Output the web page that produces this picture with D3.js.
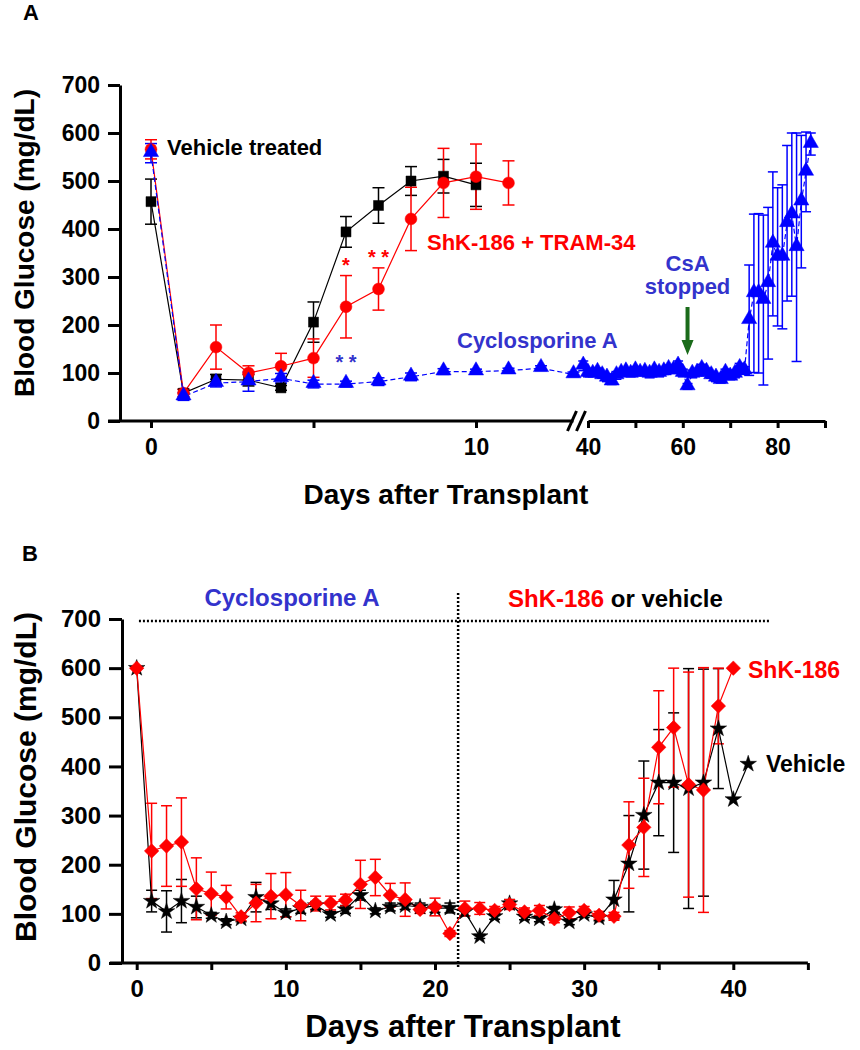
<!DOCTYPE html>
<html><head><meta charset="utf-8">
<script src="https://cdn.jsdelivr.net/npm/d3@7"></script>
<style>
body{margin:0;background:#fff}
text{font-family:"Liberation Sans",Arial,sans-serif;font-weight:bold}
</style>
</head><body>
<svg id="c" width="860" height="1050"></svg>
<script>
// ---------------- Panel A data ----------------
const yTicks = [0,100,200,300,400,500,600,700];
const vehA_days = [0,1,2,3,4,5,6,7,8,9,10];
const vehA_mean = [457,58,87,85,69,206,394,449,500,510,492];
const vehA_sem  = [47,8,10,12,5,42,32,37,30,35,45];

const shkTramA_days = [0,1,2,3,4,5,6,7,8,9,10,11];
const shkTramA_mean = [566,58,154,100,114,131,238,275,421,496,509,496];
const shkTramA_sem  = [20,8,46,15,27,40,65,44,66,72,68,46];

const csaA1_days = [0,1,2,3,4,5,6,7,8,9,10,11,12,13];
const csaA1_mean = [558,51,79,82,89,77,77,82,92,103,103,105,110,97];
const csaA1_sem  = [20,8,8,20,10,8,6,8,8,6,5,5,5,5];

const csaA2_days = [39,40,41,42,43,44,45,46,47,48,49,50,51,52,53,54,55,56,57,58,59,60,61,62,63,64,65,66,67,68,69,70,71,72,73,
                    74,75,76,77,78,79,80,81,82,83,84,85,86,87];
const csaA2_mean = [115,100,98,102,95,90,82,95,100,103,98,105,100,102,98,105,100,103,108,105,115,100,72,98,100,108,102,95,90,85,100,92,98,110,105,
                    210,266,266,252,287,369,342,342,412,430,362,457,519,577];
const csaA2_sem  = [10,8,6,8,6,8,6,8,6,8,6,8,6,6,8,6,8,6,8,6,10,8,6,8,6,10,8,6,8,6,8,6,8,10,8,
                    115,165,166,177,158,150,144,150,162,170,238,138,83,23];

// ---------------- Panel B data ----------------
const shkB_days = d3.range(0,41);
const shkB_mean = [600,228,238,246,151,141,134,94,122,136,139,117,121,122,128,160,174,138,129,109,114,60,111,111,107,119,104,107,90,102,107,97,95,240,276,439,479,363,352,523,600];
const shkB_sem  = [0,97,82,90,63,44,24,8,38,46,45,31,15,14,12,49,37,24,34,8,18,6,15,12,8,10,8,10,8,12,8,8,8,88,100,115,121,229,249,77,0];

const vehB_days = d3.range(0,42);
const vehB_mean = [600,126,105,126,114,97,84,90,134,121,102,111,117,99,109,138,106,114,117,114,111,112,104,54,95,121,94,90,109,84,99,92,129,202,301,367,367,355,367,477,333,405];
const vehB_sem  = [0,22,42,44,22,6,6,6,30,12,8,10,8,6,8,10,6,8,8,8,8,10,8,4,6,8,6,6,6,6,6,6,39,98,110,108,142,244,231,122,0,0];

const xTicksB = [0,5,10,15,20,25,30,35,40,45];
const xLabelsB = [0,10,20,30,40];

const svg = d3.select("#c");
const RED = "#ff0000", BLUE = "#0000ff", TXTBLUE = "#3333cc", GREEN = "#1a6b1a";

function zip(days, mean, sem){ return days.map((d,i)=>({d, m:mean[i], s:sem[i]})); }

function errorBars(g, data, x, y, color, cap, w){
  const eb = g.append("g");
  data.filter(p=>p.s>0).forEach(p=>{
    const cx = x(p.d);
    eb.append("line").attr("x1",cx).attr("x2",cx).attr("y1",y(p.m-p.s)).attr("y2",y(p.m+p.s))
      .attr("stroke",color).attr("stroke-width",w);
    [p.m-p.s, p.m+p.s].forEach(v=>{
      eb.append("line").attr("x1",cx-cap/2).attr("x2",cx+cap/2).attr("y1",y(v)).attr("y2",y(v))
        .attr("stroke",color).attr("stroke-width",w);
    });
  });
}
function seriesLine(g, data, x, y, color, dash){
  g.append("path").datum(data)
    .attr("d", d3.line().x(p=>x(p.d)).y(p=>y(p.m)))
    .attr("fill","none").attr("stroke",color).attr("stroke-width",1.2)
    .attr("stroke-dasharray", dash||null);
}
function markers(g, data, x, y, color, type, size, yoff, rot){
  g.selectAll(null).data(data).enter().append("path")
    .attr("transform", p=>`translate(${x(p.d)},${y(p.m)+(yoff||0)}) rotate(${rot||0})`)
    .attr("d", d3.symbol().type(type).size(size))
    .attr("fill",color).attr("stroke",color).attr("stroke-width",0.5);
}

// ================= PANEL A =================
const yA = d3.scaleLinear().domain([0,700]).range([421,85]);
const xA1 = d3.scaleLinear().domain([0,10]).range([151,476]);
const xA2 = d3.scaleLinear().domain([40,90]).range([588,825]);

svg.append("text").attr("x",31).attr("y",20).attr("text-anchor","middle").attr("font-size",22).text("A");

const gA = svg.append("g");
const yAxA = gA.append("g").attr("transform","translate(120,0)")
  .call(d3.axisLeft(yA).tickValues(yTicks).tickSize(12).tickSizeOuter(0).tickPadding(8));
yAxA.selectAll("text").attr("font-size",23).attr("fill","#000");
yAxA.selectAll("line").attr("stroke-width",3);
yAxA.select(".domain").attr("stroke-width",3);
const xAxA1 = gA.append("g").attr("transform","translate(0,421)")
  .call(d3.axisBottom(xA1).tickValues([0,5,10]).tickFormat(d=>d===5?"":d).tickSize(7).tickSizeOuter(0).tickPadding(11));
xAxA1.select(".domain").remove();
xAxA1.selectAll("text").attr("font-size",23).attr("fill","#000");
xAxA1.selectAll("line").attr("stroke-width",3);
gA.append("line").attr("x1",xA1(-1.32)).attr("x2",xA1(13.0)).attr("y1",421).attr("y2",421)
  .attr("stroke","#000").attr("stroke-width",3);
const xAxA2 = gA.append("g").attr("transform","translate(0,421)")
  .call(d3.axisBottom(xA2).tickValues([40,50,60,70,80,90]).tickFormat(d=>[40,60,80].includes(d)?d:"").tickSize(7).tickSizeOuter(0).tickPadding(11));
xAxA2.select(".domain").attr("stroke-width",3);
xAxA2.selectAll("text").attr("font-size",23).attr("fill","#000");
xAxA2.selectAll("line").attr("stroke-width",3);
[0,9].forEach(o=>{
  gA.append("line").attr("x1",xA1(13.0)-6+o).attr("x2",xA1(13.0)+3+o).attr("y1",431).attr("y2",411)
    .attr("stroke","#000").attr("stroke-width",3);
});
gA.append("text").attr("x",446).attr("y",504).attr("text-anchor","middle").attr("font-size",28).text("Days after Transplant");
gA.append("text").attr("transform","translate(34,243) rotate(-90)").attr("text-anchor","middle").attr("font-size",28).text("Blood Glucose (mg/dL)");

const vehA = zip(vehA_days,vehA_mean,vehA_sem);
const shkA = zip(shkTramA_days,shkTramA_mean,shkTramA_sem);
const csa1 = zip(csaA1_days,csaA1_mean,csaA1_sem);
const csa2 = zip(csaA2_days,csaA2_mean,csaA2_sem);

errorBars(gA, vehA, xA1, yA, "#000", 12, 1.5);
errorBars(gA, shkA, xA1, yA, RED, 12, 1.5);
errorBars(gA, csa1, xA1, yA, BLUE, 12, 1.5);
errorBars(gA, csa2, xA2, yA, BLUE, 10, 1.5);
seriesLine(gA, vehA, xA1, yA, "#000");
seriesLine(gA, shkA, xA1, yA, RED);
seriesLine(gA, csa1, xA1, yA, BLUE, "5,3");
seriesLine(gA, csa2, xA2, yA, BLUE, "5,3");
markers(gA, vehA, xA1, yA, "#000", d3.symbolSquare, 100);
markers(gA, shkA, xA1, yA, RED, d3.symbolCircle, 110);
markers(gA, csa1, xA1, yA, BLUE, d3.symbolTriangle, 100, -1);
markers(gA, csa2, xA2, yA, BLUE, d3.symbolTriangle, 100, -1);

gA.append("text").attr("x",167).attr("y",155).attr("font-size",22).text("Vehicle treated");
gA.append("text").attr("x",427).attr("y",250).attr("font-size",22).attr("fill",RED).text("ShK-186 + TRAM-34");
gA.append("text").attr("x",457).attr("y",348).attr("font-size",22).attr("fill",TXTBLUE).text("Cyclosporine A");
gA.append("text").attr("x",xA2(61)).attr("y",271).attr("text-anchor","middle").attr("font-size",22).attr("fill",TXTBLUE).text("CsA");
gA.append("text").attr("x",xA2(61)).attr("y",294).attr("text-anchor","middle").attr("font-size",22).attr("fill",TXTBLUE).text("stopped");
gA.append("text").attr("x",xA1(6)).attr("y",272).attr("text-anchor","middle").attr("font-size",20).attr("fill",RED).text("*");
gA.append("text").attr("x",xA1(7)).attr("y",264).attr("text-anchor","middle").attr("font-size",20).attr("fill",RED).text("* *");
gA.append("text").attr("x",xA1(6)).attr("y",369).attr("text-anchor","middle").attr("font-size",20).attr("fill",TXTBLUE).text("* *");
const ax = xA2(61);
gA.append("line").attr("x1",ax).attr("x2",ax).attr("y1",307).attr("y2",342).attr("stroke",GREEN).attr("stroke-width",4);
gA.append("path").attr("d",`M${ax-6},340 L${ax+6},340 L${ax},355 Z`).attr("fill",GREEN);

// ================= PANEL B =================
const yB = d3.scaleLinear().domain([0,700]).range([963,619]);
const xB = d3.scaleLinear().domain([0,40]).range([136.7,733.3]);

svg.append("text").attr("x",30).attr("y",561).attr("text-anchor","middle").attr("font-size",22).text("B");

const gB = svg.append("g");
const yAxB = gB.append("g").attr("transform","translate(122,0)")
  .call(d3.axisLeft(yB).tickValues(yTicks).tickSize(13).tickSizeOuter(0).tickPadding(8));
yAxB.selectAll("text").attr("font-size",24).attr("fill","#000");
yAxB.selectAll("line").attr("stroke-width",3);
yAxB.select(".domain").attr("stroke-width",3);

const xAxB = gB.append("g").attr("transform","translate(0,963)")
  .call(d3.axisBottom(xB).tickValues(xTicksB).tickFormat(d=>xLabelsB.includes(d)?d:"").tickSize(7).tickSizeOuter(0).tickPadding(10));
xAxB.select(".domain").remove();
xAxB.selectAll("text").attr("font-size",24).attr("fill","#000");
xAxB.selectAll("line").attr("stroke-width",3);
gB.append("line").attr("x1",xB(-1.8)).attr("x2",xB(45)).attr("y1",963).attr("y2",963).attr("stroke","#000").attr("stroke-width",3);

gB.append("text").attr("x",463).attr("y",1037).attr("text-anchor","middle").attr("font-size",31).text("Days after Transplant");
gB.append("text").attr("transform","translate(36,777) rotate(-90)").attr("text-anchor","middle").attr("font-size",30).text("Blood Glucose (mg/dL)");

gB.append("line").attr("x1",xB(0.15)).attr("x2",xB(42.5)).attr("y1",yB(700)+2).attr("y2",yB(700)+2)
  .attr("stroke","#000").attr("stroke-width",2.5).attr("stroke-dasharray","2,2");
gB.append("line").attr("x1",xB(21.55)).attr("x2",xB(21.55)).attr("y1",593).attr("y2",968)
  .attr("stroke","#000").attr("stroke-width",2.5).attr("stroke-dasharray","2,2");

gB.append("text").attr("x",292).attr("y",606).attr("text-anchor","middle").attr("font-size",24).attr("fill",TXTBLUE).text("Cyclosporine A");
const t2 = gB.append("text").attr("x",508).attr("y",607).attr("font-size",24);
t2.append("tspan").attr("fill",RED).text("ShK-186");
t2.append("tspan").attr("fill","#000").text(" or vehicle");

const vehB = zip(vehB_days,vehB_mean,vehB_sem);
const shkB = zip(shkB_days,shkB_mean,shkB_sem);
errorBars(gB, vehB, xB, yB, "#000", 11, 1.5);
errorBars(gB, shkB, xB, yB, RED, 11, 1.5);
seriesLine(gB, vehB, xB, yB, "#000");
seriesLine(gB, shkB, xB, yB, RED);
markers(gB, vehB, xB, yB, "#000", d3.symbolStar, 85);
markers(gB, shkB, xB, yB, RED, d3.symbolSquare, 105, 0, 45);

gB.append("text").attr("x",748).attr("y",678).attr("font-size",23).attr("fill",RED).text("ShK-186");
gB.append("text").attr("x",766).attr("y",772).attr("font-size",23).attr("fill","#000").text("Vehicle");
</script>
</body></html>
